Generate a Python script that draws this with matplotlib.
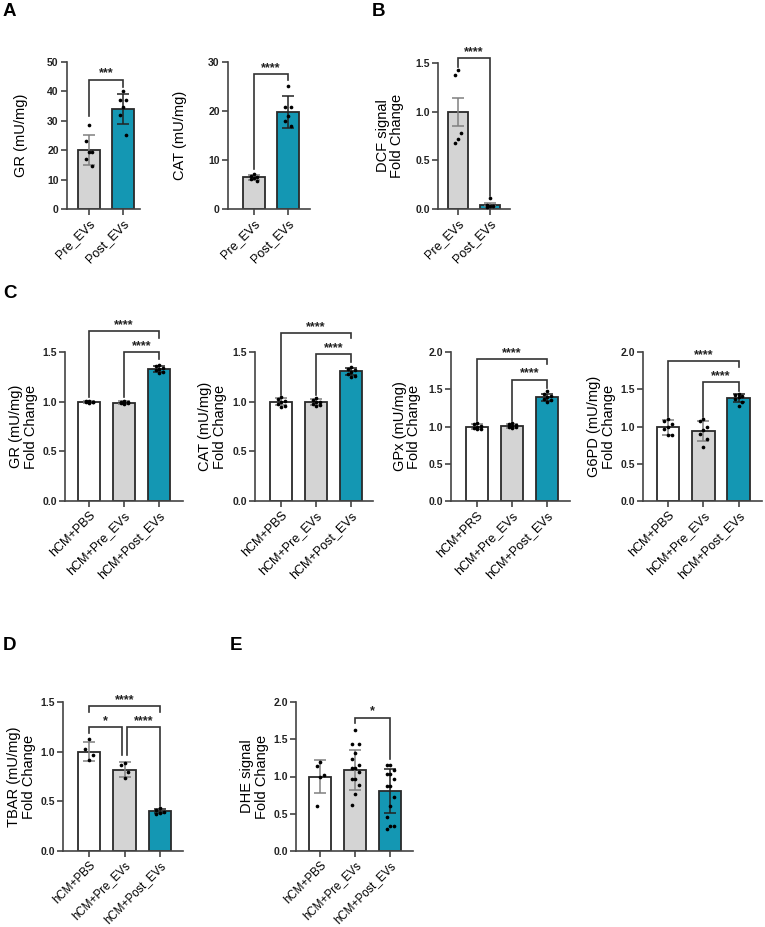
import numpy as np
import matplotlib
matplotlib.use('Agg')
import matplotlib.pyplot as plt
from matplotlib.ticker import FormatStrFormatter

plt.rcParams['font.family'] = ['Liberation Sans', 'DejaVu Sans']

W, H = 765, 927
TEAL = '#1497B3'
GRAY = '#D4D4D4'
WHITE = '#FFFFFF'
DARK = '#2a2a2a'

# ---------------- data ----------------
ab_cats = ['Pre_EVs', 'Post_EVs']
hcm_cats = ['hCM+PBS', 'hCM+Pre_EVs', 'hCM+Post_EVs']
gpx_cats = ['hCM+PRS', 'hCM+Pre_EVs', 'hCM+Post_EVs']

a_gr_means = [20.0, 34.0]
a_gr_sd = [5.2, 5.2]
a_gr_pts = [[28.7, 23.2, 19.5, 19.5, 17.0, 14.5],
            [40.0, 37.2, 37.2, 34.7, 32.1, 25.3]]

a_cat_means = [6.5, 19.8]
a_cat_sd = [0.5, 3.3]
a_cat_pts = [[7.2, 6.8, 6.6, 6.4, 6.2, 5.8],
             [25.2, 20.8, 20.8, 19.0, 18.0, 17.0]]

b_dcf_means = [1.0, 0.045]
b_dcf_sem = [0.145, 0.015]
b_dcf_pts = [[1.43, 1.38, 0.78, 0.72, 0.68],
             [0.11, 0.04, 0.03, 0.02, 0.03]]

c_gr_means = [1.0, 0.99, 1.33]
c_gr_sd = [0.01, 0.012, 0.03]
c_gr_pts = [[1.01, 1.005, 1.0, 1.0, 0.995, 0.99, 1.0],
            [1.01, 1.0, 0.995, 0.99, 0.985, 0.98, 0.99],
            [1.37, 1.36, 1.34, 1.33, 1.32, 1.30, 1.29]]

c_cat_means = [1.0, 1.0, 1.305]
c_cat_sd = [0.035, 0.03, 0.035]
c_cat_pts = [[1.05, 1.03, 1.01, 1.0, 0.98, 0.96, 0.95],
             [1.04, 1.02, 1.0, 1.0, 0.98, 0.97, 0.96],
             [1.35, 1.33, 1.32, 1.30, 1.28, 1.26, 1.25]]

c_gpx_means = [1.0, 1.01, 1.39]
c_gpx_sd = [0.035, 0.025, 0.045]
c_gpx_pts = [[1.05, 1.03, 1.01, 1.0, 0.98, 0.96, 0.96],
             [1.05, 1.03, 1.02, 1.01, 1.0, 0.99, 0.98],
             [1.47, 1.43, 1.41, 1.39, 1.37, 1.35, 1.33]]

c_g6pd_means = [0.99, 0.935, 1.38]
c_g6pd_sd = [0.1, 0.135, 0.05]
c_g6pd_pts = [[1.1, 1.07, 1.03, 1.0, 0.96, 0.88, 0.88],
              [1.1, 1.07, 1.0, 0.95, 0.9, 0.83, 0.72],
              [1.44, 1.42, 1.41, 1.39, 1.37, 1.33, 1.28]]

d_tbar_means = [1.0, 0.82, 0.40]
d_tbar_sd = [0.095, 0.08, 0.02]
d_tbar_pts = [[1.13, 1.03, 0.97, 0.92],
              [0.89, 0.87, 0.80, 0.73],
              [0.43, 0.41, 0.39, 0.38, 0.37]]

e_dhe_means = [1.0, 1.09, 0.80]
e_dhe_sd = [0.215, 0.265, 0.295]
e_dhe_pts = [[1.2, 1.14, 1.02, 1.0, 0.6],
             [1.63, 1.43, 1.43, 1.31, 1.24, 1.16, 1.11, 1.11, 1.06, 0.97, 0.97, 0.89, 0.77, 0.62],
             [1.15, 1.15, 1.09, 1.03, 1.03, 0.96, 0.87, 0.87, 0.72, 0.61, 0.46, 0.34, 0.34, 0.29]]

fig = plt.figure(figsize=(W / 100, H / 100), dpi=100)


def px_axes(left, right, top, bottom):
    return fig.add_axes([left / W, 1 - bottom / H, (right - left) / W, (bottom - top) / H])


def jitter(vals):
    vals = np.asarray(vals, float)
    order = np.argsort(-vals)
    offs = np.zeros(len(vals))
    pattern = [0.0, -0.1, 0.1]
    for k, idx in enumerate(order):
        offs[idx] = pattern[k % 3]
    return offs


def panel(rect, bar0, spacing, cats, means, errs, pts, colors, ymax, ystep,
          ylabel, brackets, labelpad, fmt, err_colors=None, xfs=9):
    left, right, top, bottom = rect
    ax = px_axes(left, right, top, bottom)
    n = len(cats)
    x = np.arange(n)
    ax.bar(x, means, width=0.64, color=colors, edgecolor=DARK, linewidth=1.3, zorder=2)
    if err_colors is None:
        err_colors = ['#808080' if c != TEAL else '#222222' for c in colors]
    for i in range(n):
        ax.errorbar(x[i], means[i], yerr=errs[i], fmt='none', ecolor=err_colors[i],
                    elinewidth=1.1, capsize=4.3, capthick=1.1, zorder=3)
        ax.scatter(x[i] + jitter(pts[i]), pts[i], s=7, color='black', zorder=4,
                   linewidths=0)
    ax.set_xlim((left - bar0) / spacing, (right - bar0) / spacing)
    ax.set_ylim(0, ymax)
    ax.set_yticks(np.arange(0, ymax + 1e-9, ystep))
    ax.yaxis.set_major_formatter(FormatStrFormatter(fmt))
    ax.set_xticks(x)
    ax.set_xticklabels(cats, rotation=45, ha='right', rotation_mode='anchor', fontsize=xfs)
    for lab in ax.get_yticklabels():
        lab.set_fontweight('bold')
        lab.set_fontsize(7.5)
        lab.set_color('#222222')
    ax.tick_params(axis='both', direction='out', length=4, width=1.2, color='#444444')
    ax.tick_params(axis='x', pad=2)
    ax.tick_params(axis='y', pad=2)
    for s in ['top', 'right']:
        ax.spines[s].set_visible(False)
    for s in ['left', 'bottom']:
        ax.spines[s].set_color('#444444')
        ax.spines[s].set_linewidth(1.2)
    ax.set_ylabel(ylabel, fontsize=10.5, labelpad=labelpad, linespacing=1.05)
    for (xi, xj, yb, yi, yj, lab) in brackets:
        ax.plot([xi, xi, xj, xj], [yi, yb, yb, yj], color='#333333', lw=1.2,
                clip_on=False, zorder=5, solid_joinstyle='miter')
        ax.text((xi + xj) / 2, yb, lab, ha='center', va='bottom', fontsize=9,
                fontweight='bold', color='#222222', clip_on=False)
    return ax


# Panel A
panel((67, 140, 62, 209), 89, 34, ab_cats, a_gr_means, a_gr_sd, a_gr_pts,
      [GRAY, TEAL], 50, 10, 'GR (mU/mg)',
      [(0, 1, 44.0, 31.5, 41.5, '***')], 14, '%d')
panel((228, 310, 62, 209), 254, 34, ab_cats, a_cat_means, a_cat_sd, a_cat_pts,
      [GRAY, TEAL], 30, 10, 'CAT (mU/mg)',
      [(0, 1, 27.6, 8.2, 26.3, '****')], 15, '%d')
# Panel B
panel((438, 510, 63, 209), 458, 32, ab_cats, b_dcf_means, b_dcf_sem, b_dcf_pts,
      [GRAY, TEAL], 1.5, 0.5, 'DCF signal\nFold Change',
      [(0, 1, 1.55, 1.46, 0.13, '****')], 8, '%.1f',
      err_colors=['#808080', '#808080'])
# Panel C
hcm_colors = [WHITE, GRAY, TEAL]
panel((65, 183, 352, 501), 89, 35, hcm_cats, c_gr_means, c_gr_sd, c_gr_pts,
      hcm_colors, 1.5, 0.5, 'GR (mU/mg)\nFold Change',
      [(0, 2, 1.71, 1.05, 1.645, '****'), (1, 2, 1.50, 1.05, 1.43, '****')], 3, '%.1f')
panel((255, 373, 352, 501), 281, 35, hcm_cats, c_cat_means, c_cat_sd, c_cat_pts,
      hcm_colors, 1.5, 0.5, 'CAT (mU/mg)\nFold Change',
      [(0, 2, 1.69, 1.07, 1.64, '****'), (1, 2, 1.48, 1.07, 1.40, '****')], 4, '%.1f')
panel((451, 570, 352, 501), 477, 35, gpx_cats, c_gpx_means, c_gpx_sd, c_gpx_pts,
      hcm_colors, 2.0, 0.5, 'GPx (mU/mg)\nFold Change',
      [(0, 2, 1.91, 1.08, 1.84, '****'), (1, 2, 1.63, 1.08, 1.52, '****')], 5, '%.1f')
panel((643, 762, 352, 501), 668, 35.3, hcm_cats, c_g6pd_means, c_g6pd_sd, c_g6pd_pts,
      hcm_colors, 2.0, 0.5, 'G6PD (mU/mg)\nFold Change',
      [(0, 2, 1.875, 1.13, 1.80, '****'), (1, 2, 1.60, 1.13, 1.48, '****')], 3, '%.1f')
# Panel D
panel((63, 183, 702, 851), 89, 35.5, hcm_cats, d_tbar_means, d_tbar_sd, d_tbar_pts,
      hcm_colors, 1.5, 0.5, 'TBAR (mU/mg)\nFold Change',
      [(0, 2, 1.46, 1.40, 1.40, '****'), (0, 0.94, 1.25, 1.19, 0.97, '*'),
       (1.06, 2, 1.25, 0.97, 0.45, '****')], 3, '%.1f', xfs=8.3)
# Panel E
panel((296, 413, 702, 851), 320, 35, hcm_cats, e_dhe_means, e_dhe_sd, e_dhe_pts,
      hcm_colors, 2.0, 0.5, 'DHE signal\nFold Change',
      [(1, 2, 1.79, 1.72, 1.23, '*')], 3, '%.1f', xfs=8.3)

# panel letters
for lab, xp, yp in [('A', 3, 3), ('B', 372, 3), ('C', 3, 285), ('D', 3, 637), ('E', 230, 637)]:
    fig.text(xp / W, 1 - yp / H, lab, fontsize=13.5, fontweight='bold', ha='left', va='top')

fig.savefig('out.png', dpi=100)
